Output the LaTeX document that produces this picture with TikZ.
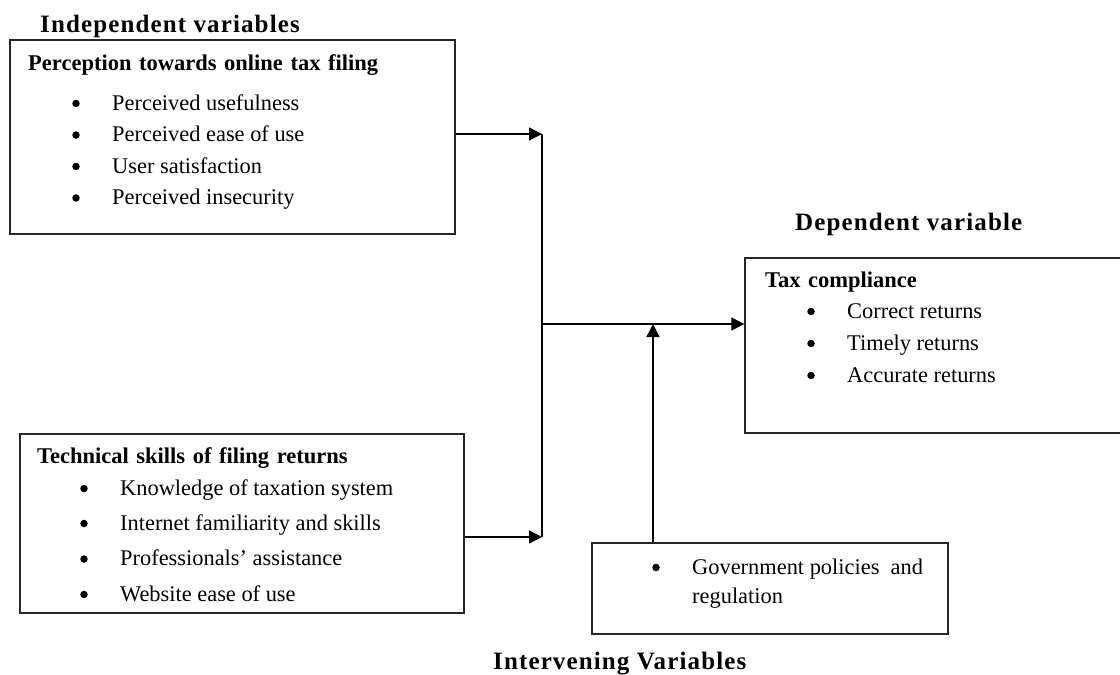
\documentclass[tikz,border=0pt]{standalone}
\usepackage{fontspec}
\setmainfont{Liberation Serif}
\usetikzlibrary{arrows.meta}
\newcommand{\myheadfont}{\fontsize{22.5}{26}\selectfont\bfseries\spaceskip=7.6pt\relax}
\begin{document}
\begin{tikzpicture}[x=1pt,y=-1pt,
  box/.style={draw=black!85, line width=1.4pt, rectangle, inner sep=0pt},
  arr/.style={line width=1.3pt, -{Triangle[length=13pt,width=13pt]}},
  ln/.style={line width=1.3pt},
  title/.style={anchor=base west, inner sep=0pt, font=\fontsize{25}{30}\selectfont\bfseries\addfontfeature{LetterSpace=4.5}},
  head/.style={anchor=base west, inner sep=0pt, font=\myheadfont},
  item/.style={anchor=base west, inner sep=0pt, font=\fontsize{22.4}{26}\selectfont},
  bul/.style={circle, fill=black, inner sep=0pt, minimum size=7.5pt, yshift=6.5pt}
]
\clip (0,0) rectangle (1120,675);
\fill[white] (0,0) rectangle (1120,675);

% boxes
\node[box, minimum width=445pt, minimum height=194pt] (b1) at (232.5,137) {};
\node[box, minimum width=444pt, minimum height=179pt] (b2) at (242,523.5) {};
\node[box, minimum width=385pt, minimum height=175pt] (b3) at (937.5,345.5) {};
\node[box, minimum width=356pt, minimum height=91pt] (b4) at (770,588.5) {};

% titles
\node[title] (t1) at (40,32.5) {Independent variables};
\node[title] (t2) at (795,230) {Dependent variable};
\node[title] (t3) at (493,669.5) {Intervening Variables};

% box 1
\node[head] (h1) at (28,70.5) {Perception towards online tax filing};
\node[bul] (p1) at (76,110) {};
\node[item] (i1) at (112,110) {Perceived usefulness};
\node[bul] (p2) at (76,141.5) {};
\node[item] (i2) at (112,141.5) {Perceived ease of use};
\node[bul] (p3) at (76,173) {};
\node[item] (i3) at (112,173) {User satisfaction};
\node[bul] (p4) at (76,204.5) {};
\node[item] (i4) at (112,204.5) {Perceived insecurity};

% box 2
\node[head] (h2) at (37,463) {Technical skills of filing returns};
\node[bul] (q1) at (84,495) {};
\node[item] (k1) at (120,495) {Knowledge of taxation system};
\node[bul] (q2) at (84,530) {};
\node[item] (k2) at (120,530) {Internet familiarity and skills};
\node[bul] (q3) at (84,565.5) {};
\node[item] (k3) at (120,565.5) {Professionals’ assistance};
\node[bul] (q4) at (84,601) {};
\node[item] (k4) at (120,601) {Website ease of use};

% box 3
\node[head] (h3) at (765,287) {Tax compliance};
\node[bul] (r1) at (811,318) {};
\node[item] (c1) at (847,318) {Correct returns};
\node[bul] (r2) at (811,350) {};
\node[item] (c2) at (847,350) {Timely returns};
\node[bul] (r3) at (811,382) {};
\node[item] (c3) at (847,382) {Accurate returns};

% box 4
\node[bul] (s1) at (656,574) {};
\node[item] (g1) at (692,574) {Government policies\ \ and};
\node[item] (g2) at (692,603) {regulation};

% junctions
\coordinate (j1) at (542,134);
\coordinate (j2) at (542,537);
\coordinate (jm) at (542,324);
\coordinate (jv) at (653,324);

% connectors
\draw[arr] (b1.east |- j1) -- (j1);
\draw[arr] (b2.east |- j2) -- (j2);
\draw[ln] (j1) -- (j2);
\draw[arr] (jm) -- (b3.west |- jm);
\draw[arr] (b4.north -| jv) -- (jv);
\end{tikzpicture}
\end{document}
